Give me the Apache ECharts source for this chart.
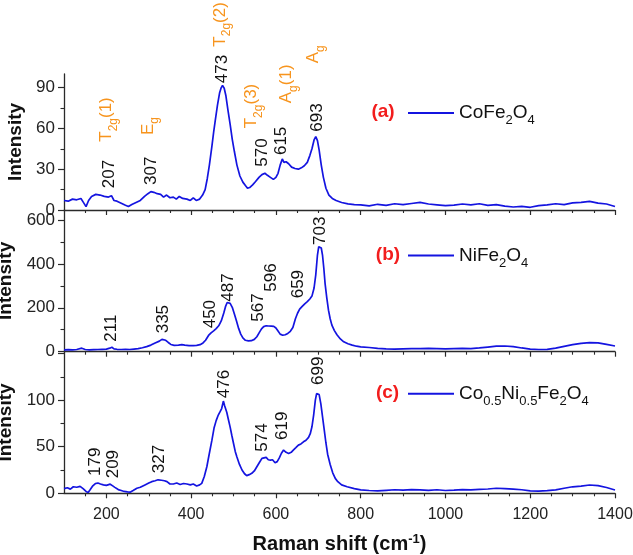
<!DOCTYPE html>
<html>
<head>
<meta charset="utf-8">
<script src="https://cdn.jsdelivr.net/npm/echarts@6/dist/echarts.min.js"></script>
<style>html,body{margin:0;padding:0;background:#fff}#c{width:633px;height:555px}</style>
</head>
<body>
<div id="c"></div>
<script>
// ---------------- data ----------------
const shiftA = [100,110,120,130,140,145,152,158,165,175,185,195,205,212,218,225,235,245,252,260,270,280,290,298,305,312,320,328,335,342,350,358,365,372,380,390,398,405,412,
  420,427,433,438,443,449,453,457,462,467,471,474,478,482,487,492,497,502,508,515,522,528,533,538,545,552,560,567,574,580,587,594,600,605,610,615,619,624,630,637,645,653,660,667,674,680,685,690,694,698,702,707,712,718,725,733,742,755,770,785,800,
  820,840,860,880,900,920,940,960,980,1000,1020,1040,1060,1080,1100,1120,1140,1160,1180,1200,1220,1240,1260,1280,1300,1320,1340,1360,1380,1400];
const intA = [7,6.5,8,7.5,8.5,6,2.5,7,10,11.5,11,10,9.5,10.5,7,6.5,5,3.5,2.5,4,5.5,7,10,12,13.5,13,12,11.5,9.5,11,9,9.5,8,10,8.5,8,7,9,7,
  8,11,15,23,33,47,57,66,77,86,90,91.5,89.5,84,73,63,52,43,33,25,20.5,18,16,16.5,18.5,21,24,26,27,25.5,24,22.5,24,27,33,37.5,35,35.5,34,31.5,30.5,30,31,32.5,35,40,45,51.5,54,51,44,33,24,16,11,8.5,7,5.5,4.5,4,3.7,
  3.0,4.2,3.4,4.6,4.0,4.8,5.6,4.4,3.8,3.2,3.6,4.4,3.8,4.6,3.4,4.0,2.8,2.2,2.6,2.0,3.2,3.8,4.6,4.0,5.2,5.6,6.4,5.0,4.4,2.6];

const shiftB = [100,110,120,130,142,150,160,170,180,190,200,208,213,218,225,235,245,255,265,275,285,295,305,315,325,331,335,340,346,352,360,370,378,385,395,405,413,421,428,434,
  441,447,453,459,465,471,477,481,485,488,492,497,502,507,512,517,522,528,535,542,549,555,561,566,571,577,583,589,595,600,605,610,616,622,628,634,640,646,651,656,
  662,668,674,680,685,690,694,698,701,704,707,710,713,716,720,724,728,732,738,744,752,760,770,780,790,800,
  820,840,860,880,900,920,940,960,980,1000,1020,1040,1060,1080,1100,1120,1140,1160,1180,1200,1220,1240,1260,1280,1300,1320,1340,1360,1380,1400];
const intB = [8,9,8,10,16,10,8,9,10,11,12,16,20,13,11,10,11,10,12,14,18,23,30,40,48,56,60,52,42,33,29,30,32,30,28,28,29,32,40,52,
  74,86,95,105,118,140,176,205,224,227,220,202,172,140,106,80,63,52,49,50,56,68,88,104,114,118,117,116,115,108,94,80,75,77,83,93,110,150,175,194,
  206,218,228,240,253,290,350,440,478,487,472,438,380,310,245,189,150,121,96,77,58,45,36,30,25,22,
  19,15,13,12,13,14,14,15,14,13,14,15,14,17,21,25,26,23,17,12,10,11,16,24,32,38,41,40,33,26];

const shiftC = [100,108,115,122,130,138,145,152,157,162,168,174,180,186,193,200,209,215,220,228,235,242,250,256,263,272,280,291,300,307,315,322,330,337,343,350,358,366,374,382,
  390,398,405,413,420,425,431,437,443,449,454,459,464,468,472,476,479,484,488,492,496,500,504,508,514,520,526,531,537,543,549,555,561,567,572,577,582,587,592,598,
  603,608,613,618,624,630,636,641,647,653,659,665,671,677,681,685,689,693,696,699,702,706,710,714,718,722,728,734,740,746,755,768,785,800,
  820,840,860,880,900,920,940,960,980,1000,1020,1040,1060,1080,1100,1120,1140,1160,1180,1200,1220,1240,1260,1280,1300,1320,1340,1360,1380,1400];
const intC = [5,6,4.5,7,6.5,7.5,5,2,0.8,4,8,10.5,11,10,9,8.5,9.8,8,6.4,4,3,2,1.5,1.2,3,5.4,6.5,9,11,12.5,13.5,14.5,14,13.5,12.5,10,10,11,9.5,10.5,
  10,9,10,7.9,9,10.7,18,28.5,43,57,70,78,84,87.4,91,99,94,87,79,71,62,53.5,45,39,31,25,21,19,20,21.4,24,28.5,33,37.5,38,38.5,36,35.7,36,32.8,
  34,38,43,46.4,44,42.8,44,46.4,49,51.7,53,55.3,57,60,64,71.4,84,100,107,109,106,96,82,68,54,42,31,22,16,12.5,9,7,5,3.6,
  3.0,2.6,3.2,3.8,3.4,4.0,3.6,3.2,3.8,3.0,3.4,4.0,3.6,4.2,4.6,5.4,5.0,4.4,3.8,2.6,2.4,2.8,3.6,5.4,7.0,7.8,8.9,8.2,6.2,3.6];

const seriesNames = ['CoFe2O4','NiFe2O4','Co0.5Ni0.5Fe2O4'];
const panelTags = ['(a)','(b)','(c)'];

const xTicks = [200,400,600,800,1000,1200,1400];
const xMinorTicks = [150,250,300,350,450,500,550,650,700,750,850,900,950,1050,1100,1150,1250,1300,1350];
const yTicksA = [0,30,60,90],   yMinorA = [15,45,75];
const yTicksB = [0,200,400,600], yMinorB = [100,300,500];
const yTicksC = [0,50,100,150], yLabelsC = [0,50,100], yMinorC = [25,75,125];

// peak annotations (text, anchor wavenumber, anchor intensity)
const peakTextA = ['207','307','473','570','615','693'];
const peakXA = [207,307,473,567,612,696.7];
const peakYA = [16,18.4,93.2,31.8,40.4,57.6];
const modeTextA = ['{m|T}{s|2g}{m|(1)}','{m|E}{s|g}','{m|T}{s|2g}{m|(2)}','{m|T}{s|2g}{m|(3)}','{m|A}{s|g}{m|(1)}','{m|A}{s|g}'];
const modeXA = [200.8,298.3,468.4,542.7,625.4,688];
const modeYA = [50.2,55.1,120.1,60.1,78.5,107.9];
const peakTextB = ['211','335','450','487','567','596','659','703'];
const peakXB = [212.6,334.5,444.7,488,559,590,653,704.5];
const peakYB = [45.5,83.7,106.5,227.6,136.5,273,243,485.7];
const peakTextC = ['179','209','327','476','574','619','699'];
const peakXC = [173,216,325,477.8,566.8,616,700.5];
const peakYC = [18.6,16.1,21.5,102,44.7,57.2,116.3];

// ---------------- chart ----------------
const FONT = '"Liberation Sans", Arial, Helvetica, sans-serif';
const BLUE = '#1414e0';
const AXIS = '#2a2a2a';
const ORANGE = '#f7941d';
const chart = echarts.init(document.getElementById('c'));

const gridDefs = [{top:74,height:136},{top:210,height:141.7},{top:351.7,height:141.6}];
const yMax = [100,645,152];
const yMajor = [yTicksA,yTicksB,yTicksC];
const yLab = [yTicksA,yTicksB,yLabelsC];
const yMinor = [yMinorA,yMinorB,yMinorC];
const shifts = [shiftA,shiftB,shiftC];
const ints = [intA,intB,intC];

const grid = gridDefs.map(g => ({left:64,width:551,top:g.top,height:g.height,containLabel:false,outerBoundsMode:'none'}));

const xAxis = [];
const yAxis = [];
for (let k=0;k<3;k++){
  xAxis.push({
    type:'value', gridIndex:k, min:100, max:1400, position:'bottom',
    axisLine:{show:true,onZero:false,lineStyle:{color:AXIS,width:1.3}},
    axisTick:{show:true,inside:false,length:5,customValues:xTicks,lineStyle:{color:AXIS,width:1.2}},
    axisLabel:{show:k===2,customValues:xTicks,fontSize:16,color:'#222',fontFamily:FONT,margin:13,
      formatter:(v)=>String(v)},
    splitLine:{show:false},
    name: k===2 ? '{t|Raman shift (cm}{sup|-1}{t|)}' : '',
    nameLocation:'middle', nameGap:40,
    nameTextStyle:{fontFamily:FONT,color:'#111',rich:{
      t:{fontSize:20,fontWeight:'bold',fontFamily:FONT,color:'#111',lineHeight:22,verticalAlign:'middle'},
      sup:{fontSize:13,fontWeight:'bold',fontFamily:FONT,color:'#111',lineHeight:13,verticalAlign:'top'}}}
  });
  yAxis.push({
    type:'value', gridIndex:k, min:0, max:yMax[k], position:'left',
    axisLine:{show:true,onZero:false,lineStyle:{color:AXIS,width:1.3}},
    axisTick:{show:true,inside:false,length:6,customValues:yMajor[k],lineStyle:{color:AXIS,width:1.2}},
    axisLabel:{show:true,customValues:yLab[k],fontSize:17,color:'#222',fontFamily:FONT,margin:9,
      formatter:(v)=>String(v)},
    splitLine:{show:false},
    name:'Intensity', nameLocation:'middle', nameGap:36,
    nameTextStyle:{fontSize:19,fontWeight:'bold',color:'#111',fontFamily:FONT}
  });
}
for (let k=0;k<3;k++){
  xAxis.push({
    type:'value', gridIndex:k, min:100, max:1400, position:'bottom',
    axisLine:{show:false}, axisLabel:{show:false}, splitLine:{show:false},
    axisTick:{show:true,inside:false,length:3,customValues:xMinorTicks,lineStyle:{color:AXIS,width:1.1}}
  });
  yAxis.push({
    type:'value', gridIndex:k, min:0, max:yMax[k], position:'left',
    axisLine:{show:false}, axisLabel:{show:false}, splitLine:{show:false},
    axisTick:{show:true,inside:false,length:3.5,customValues:yMinor[k],lineStyle:{color:AXIS,width:1.1}}
  });
}

const series = [0,1,2].map(k => ({
  type:'line', name:seriesNames[k], xAxisIndex:k, yAxisIndex:k,
  data: shifts[k].map((s,i)=>[s,ints[k][i]]),
  showSymbol:false, symbol:'none', smooth:false, animation:false,
  color:BLUE, itemStyle:{color:BLUE},
  lineStyle:{color:BLUE,width:1.7}
}));

const legendRich = {
  n:{fontSize:19,fontFamily:FONT,color:'#111',lineHeight:20,verticalAlign:'middle'},
  s:{fontSize:13,fontFamily:FONT,color:'#111',lineHeight:13,verticalAlign:'top',padding:[11,0,0,0]}
};
const legendFmt = {
  'CoFe2O4':'{n|CoFe}{s|2}{n|O}{s|4}',
  'NiFe2O4':'{n|NiFe}{s|2}{n|O}{s|4}',
  'Co0.5Ni0.5Fe2O4':'{n|Co}{s|0.5}{n|Ni}{s|0.5}{n|Fe}{s|2}{n|O}{s|4}'
};
const legendY = [111,253.5,391.7];
const legend = [0,1,2].map(k => ({
  data:[seriesNames[k]], left:408, top:legendY[k]-8, orient:'horizontal', padding:0,
  icon:'rect', itemWidth:46, itemHeight:2, selectedMode:false,
  formatter:(name)=>legendFmt[name],
  textStyle:{fontSize:19,color:'#111',fontFamily:FONT,rich:legendRich}
}));

chart.setOption({
  animation:false,
  backgroundColor:'#fff',
  textStyle:{fontFamily:FONT},
  grid, xAxis, yAxis, series, legend
});

// annotations placed through the chart's own coordinate conversion
const tagX = [383,388,387.5];
const graphic = [];
for (let k=0;k<3;k++){
  graphic.push({type:'text', x:tagX[k], y:legendY[k]+1, silent:true,
    style:{text:panelTags[k], fill:'#f21d1d', fontSize:19, fontWeight:'bold', fontFamily:FONT, align:'center', verticalAlign:'middle'}});
}
function addPeaks(k, texts, xs, ys){
  texts.forEach((t,i)=>{
    const p = chart.convertToPixel({xAxisIndex:k,yAxisIndex:k},[xs[i],ys[i]]);
    graphic.push({type:'text', x:p[0], y:p[1], rotation:Math.PI/2, silent:true,
      style:{text:t, fill:'#111', fontSize:17, fontFamily:FONT, align:'left', verticalAlign:'middle'}});
  });
}
addPeaks(0, peakTextA, peakXA, peakYA);
addPeaks(1, peakTextB, peakXB, peakYB);
addPeaks(2, peakTextC, peakXC, peakYC);
const modeRich = {
  m:{fontSize:17,fontFamily:FONT,fill:ORANGE,color:ORANGE,lineHeight:18,verticalAlign:'middle'},
  s:{fontSize:12,fontFamily:FONT,fill:ORANGE,color:ORANGE,lineHeight:12,verticalAlign:'top',padding:[10,0,0,0]}
};
modeTextA.forEach((t,i)=>{
  const p = chart.convertToPixel({xAxisIndex:0,yAxisIndex:0},[modeXA[i],modeYA[i]]);
  graphic.push({type:'text', x:p[0], y:p[1], rotation:Math.PI/2, silent:true,
    style:{text:t, fill:ORANGE, fontSize:17, fontFamily:FONT, align:'left', verticalAlign:'middle', rich:modeRich}});
});
chart.setOption({graphic});
</script>
</body>
</html>
